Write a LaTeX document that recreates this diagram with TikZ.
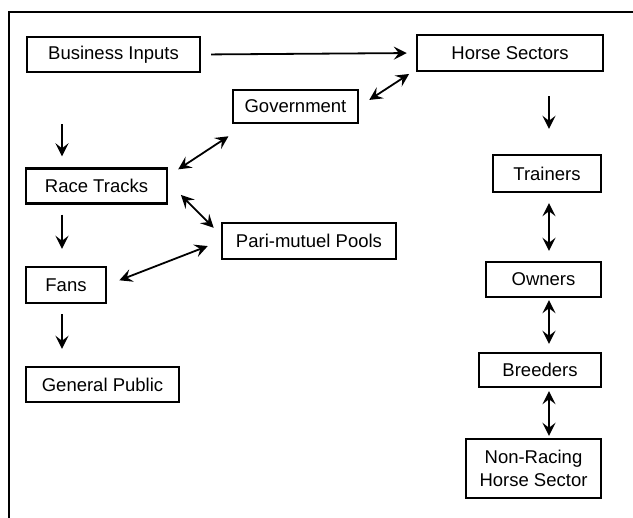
\documentclass[tikz,border=0pt]{standalone}
\usepackage{fontspec}
\setmainfont{Liberation Sans}
\usetikzlibrary{arrows.meta}

\begin{document}
\begin{tikzpicture}[x=1pt,y=-1pt,
        box/.style={draw,line width=2.4pt,inner sep=0pt,minimum height=35,
            font=\fontsize{18.5}{23}\selectfont,align=center},
        link/.style={line width=1.8pt},
        >={Stealth[length=13pt,width=13pt,inset=5pt]}]
    \useasboundingbox (0,0) rectangle (633,518);
    %% frame
    \draw[line width=2.6pt] (633,12) -- (9,12) -- (9,518);
    %% left column
    \node[box,minimum width=173] (bi) at (113.5,54.5) {Business Inputs};
    \node[box,minimum width=141] (rt) at (96.5,186) {Race Tracks};
    \node[box,minimum width=80,minimum height=36] (fans) at (66,285) {Fans};
    \node[box,minimum width=153] (gp) at (102.5,384.5) {General Public};
    %% middle
    \node[box,minimum width=125,minimum height=33] (gov) at (295.5,106.5) {Government};
    \node[box,minimum width=174,minimum height=36] (pari) at (309,241) {Pari-mutuel Pools};
    %% horse sectors
    \node[box,minimum width=186,minimum height=36] (hs) at (510,53) {Horse Sectors};
    \node[box,minimum width=108,minimum height=37] (tr) at (547,173.5) {Trainers};
    \node[box,minimum width=115] (ow) at (543.5,279.5) {Owners};
    \node[box,minimum width=122,minimum height=34] (br) at (540,370) {Breeders};
    \node[box,minimum width=135,minimum height=59] (nr) at (533.5,468.5) {Non-Racing\\Horse Sector};
    \coordinate (lx) at (62,0);
    \coordinate (rx) at (549,0);
    %% arrows
    \draw[link,->,shorten <=10,shorten >=9] (bi.east) -- (hs.west);
    \draw[link,<->,shorten <=12,shorten >=8] (gov.east) -- (hs.190);
    \draw[link,<->,shorten <=12,shorten >=22] (rt.8) -- (gov.200);
    \draw[link,<->,shorten <=18,shorten >=10] (rt.3) -- (pari.176);
    \draw[link,<->,shorten <=13,shorten >=14] (fans.east) -- (pari.west);
    \draw[link,->,shorten <=51,shorten >=11] (bi.south -| lx) -- (rt.north -| lx);
    \draw[link,->,shorten <=10,shorten >=17] (rt.south -| lx) -- (fans.north -| lx);
    \draw[link,->,shorten <=10,shorten >=17] (fans.south -| lx) -- (gp.north -| lx);
    \draw[link,->,shorten <=24,shorten >=25] (hs.south -| rx) -- (tr.north -| rx);
    \draw[link,<->,shorten <=10,shorten >=10] (tr.south -| rx) -- (ow.north -| rx);
    \draw[link,<->,shorten <=2,shorten >=8] (ow.south -| rx) -- (br.north -| rx);
    \draw[link,<->,shorten <=3,shorten >=2] (br.south -| rx) -- (nr.north -| rx);
\end{tikzpicture}
\end{document}
